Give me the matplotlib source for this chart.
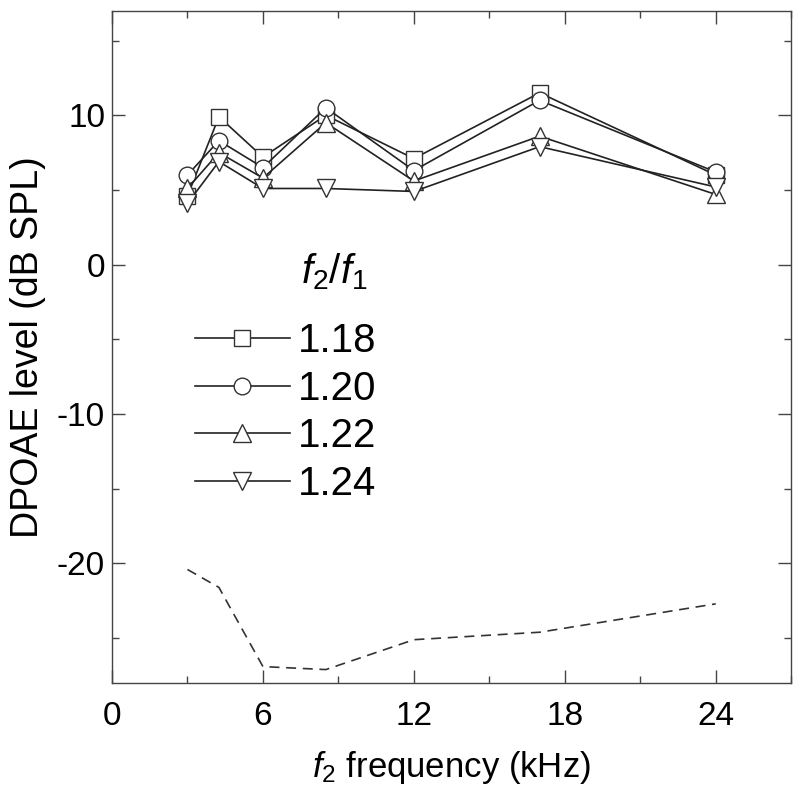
import matplotlib.pyplot as plt
from matplotlib.ticker import MultipleLocator

plt.rcParams["font.family"] = ["Liberation Sans", "DejaVu Sans"]
plt.rcParams["mathtext.fontset"] = "custom"
plt.rcParams["mathtext.rm"] = "Liberation Sans"
plt.rcParams["mathtext.it"] = "Liberation Sans:italic"
plt.rcParams["axes.unicode_minus"] = False

# f2 frequencies (kHz)
freqs = [3, 4.25, 6, 8.5, 12, 17, 24]

# DPOAE levels for each f2/f1 ratio (dB SPL)
ratio_labels = ["1.18", "1.20", "1.22", "1.24"]
lvl_118 = [4.6, 9.9, 7.2, 10.0, 7.1, 11.5, 6.0]
lvl_120 = [6.0, 8.3, 6.5, 10.5, 6.3, 11.0, 6.2]
lvl_122 = [5.1, 7.5, 5.8, 9.5, 5.6, 8.6, 4.7]
lvl_124 = [4.1, 6.9, 5.1, 5.1, 4.9, 7.9, 5.2]
levels = [lvl_118, lvl_120, lvl_122, lvl_124]
markers = ["s", "o", "^", "v"]
msizes = [11, 12, 13, 13]

# noise floor (dB SPL)
noise = [-20.4, -21.6, -26.9, -27.1, -25.1, -24.6, -22.7]

fig = plt.figure(figsize=(8, 7.91), dpi=100)
ax = fig.add_axes([0.14, 0.1365, 0.849, 0.85])

ink = "#222222"
for lv, mk, ms, lab in zip(levels, markers, msizes, ratio_labels):
    ax.plot(freqs, lv, color=ink, lw=1.2, marker=mk, ms=ms,
            mfc="white", mec="#333333", mew=1.0, label=lab)

ax.plot(freqs, noise, color="#333333", lw=1.2, dashes=(6, 4))

ax.set_xlim(0, 27)
ax.set_ylim(-28, 17)
ax.xaxis.set_major_locator(MultipleLocator(6))
ax.xaxis.set_minor_locator(MultipleLocator(3))
ax.yaxis.set_major_locator(MultipleLocator(10))
ax.yaxis.set_minor_locator(MultipleLocator(5))
ax.tick_params(which="both", direction="in", top=True, right=True,
               labelsize=24, color="#444444")
ax.tick_params(which="major", length=9.5, width=1)
ax.tick_params(which="minor", length=5, width=1)
ax.tick_params(axis="x", pad=13)
ax.tick_params(axis="y", pad=5)
for sp in ax.spines.values():
    sp.set_color("#444444")
    sp.set_linewidth(1.0)

ax.set_xlabel(r"$f_2$ frequency (kHz)", fontsize=25, labelpad=12)
ax.set_ylabel("DPOAE level (dB SPL)", fontsize=27, labelpad=8)

leg = ax.legend(loc="upper left", bbox_to_anchor=(0.122, 0.537), frameon=False,
                fontsize=29, handlelength=2.35, handletextpad=0.2,
                labelspacing=0.24, borderaxespad=0, borderpad=0)
ax.text(0.278, 0.612, r"$f_2/f_1$", transform=ax.transAxes, fontsize=29,
        ha="left", va="center")

fig.savefig("out.png", dpi=100)
